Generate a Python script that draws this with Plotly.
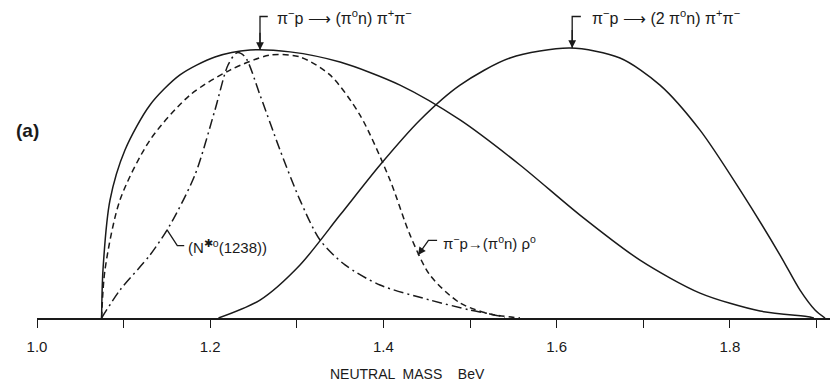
import plotly.graph_objects as go

# Neutral-mass spectra (arbitrary units, peak ~ 1) for pi- p reactions
mass_pi0n = [1.0746, 1.0762, 1.0843, 1.1016, 1.1305, 1.1651, 1.2055, 1.246, 1.2921,
             1.3499, 1.4192, 1.4885, 1.5577, 1.627, 1.6963, 1.7656, 1.8349, 1.8926, 1.897]
yield_pi0n = [0.0, 0.18, 0.44, 0.627, 0.795, 0.907, 0.974, 1.0, 0.993,
              0.955, 0.869, 0.739, 0.571, 0.384, 0.216, 0.093, 0.026, 0.004, 0.0]

mass_2pi0n = [1.2096, 1.2575, 1.3037, 1.3499, 1.3961, 1.4423, 1.4885, 1.5462, 1.6155,
              1.6732, 1.7194, 1.7656, 1.8118, 1.858, 1.8811, 1.8984, 1.91]
yield_2pi0n = [0.0, 0.067, 0.198, 0.384, 0.571, 0.739, 0.869, 0.970, 1.007,
               0.970, 0.869, 0.701, 0.478, 0.235, 0.104, 0.03, 0.0]

mass_nstar = [1.0746, 1.0958, 1.1305, 1.1536, 1.1824, 1.2055, 1.2206, 1.231, 1.2402,
              1.2575, 1.2806, 1.3037, 1.3268, 1.3557, 1.3961, 1.4538, 1.5, 1.5346, 1.54]
yield_nstar = [0.0, 0.104, 0.235, 0.347, 0.534, 0.776, 0.944, 0.99, 0.975,
               0.832, 0.627, 0.44, 0.291, 0.198, 0.123, 0.067, 0.03, 0.007, 0.0]

mass_rho = [1.0746, 1.0785, 1.0958, 1.1305, 1.1767, 1.2229, 1.2691, 1.3037, 1.3383,
            1.373, 1.4076, 1.4307, 1.4538, 1.4885, 1.5231, 1.5577]
yield_rho = [0.0, 0.18, 0.44, 0.664, 0.832, 0.925, 0.981, 0.974, 0.907,
             0.757, 0.515, 0.31, 0.16, 0.056, 0.015, 0.0]

tick_vals = [1.0, 1.1, 1.2, 1.3, 1.4, 1.5, 1.6, 1.7, 1.8, 1.9]
tick_text = ["1.0", "", "1.2", "", "1.4", "", "1.6", "", "1.8", ""]

INK = "#1a1a1a"
FONT = "Liberation Sans"
X_MAX = 1.0 + 793 / 866
Y_MAX = 318 / 268

fig = go.Figure()

def curve(x, y, dash):
    fig.add_trace(go.Scatter(x=x, y=y, mode="lines",
                             line=dict(color=INK, width=1.5, dash=dash,
                                       shape="spline", smoothing=0.8),
                             hoverinfo="skip", showlegend=False))

curve(mass_pi0n, yield_pi0n, "solid")
curve(mass_2pi0n, yield_2pi0n, "solid")
curve(mass_nstar, yield_nstar, "10px,4px,2px,4px")
curve(mass_rho, yield_rho, "6px,4px")

# leader lines joining the labels to their curves
def leader(x, y):
    fig.add_trace(go.Scatter(x=x, y=y, mode="lines",
                             line=dict(color=INK, width=1.3),
                             hoverinfo="skip", showlegend=False))

def arrowhead(x, y, ax, ay):
    fig.add_annotation(x=x, y=y, ax=ax, ay=ay, xref="x", yref="y",
                       axref="x", ayref="y", text="", showarrow=True,
                       arrowhead=2, arrowsize=1.2, arrowwidth=1.3, arrowcolor=INK)

leader([1.2665, 1.2575, 1.2575], [1.125, 1.125, 1.0])
arrowhead(1.2575, 1.0, 1.2575, 1.07)
leader([1.628, 1.618, 1.618], [1.125, 1.125, 1.007])
arrowhead(1.618, 1.007, 1.618, 1.08)
leader([1.170, 1.162, 1.150], [0.27, 0.27, 0.33])
leader([1.462, 1.452, 1.440], [0.29, 0.29, 0.235])
arrowhead(1.440, 0.235, 1.446, 0.262)

def label(x, y, text, size=16, bold=False):
    fig.add_annotation(x=x, y=y, xref="x", yref="y", text=text, showarrow=False,
                       xanchor="left", yanchor="middle",
                       font=dict(family=FONT, size=size, color=INK,
                                 weight="bold" if bold else "normal"))

label(1.2748, 1.125, "π<sup>−</sup>p ⟶ (π<sup>o</sup>n) π<sup>+</sup>π<sup>−</sup>")
label(1.6386, 1.125, "π<sup>−</sup>p ⟶ (2 π<sup>o</sup>n) π<sup>+</sup>π<sup>−</sup>")
label(1.172, 0.265, "(N<sup>✱o</sup>(1238))", size=15)
label(1.466, 0.28, "π<sup>−</sup>p→(π<sup>o</sup>n) ρ<sup>o</sup>", size=15)

fig.add_annotation(x=(14 - 37) / 793, y=(318 - 130) / 318, xref="paper", yref="paper",
                   text="(a)", showarrow=False, xanchor="left", yanchor="middle",
                   font=dict(family=FONT, size=19, color=INK, weight="bold"))

fig.add_annotation(x=1.4284, y=-56 / 318, xref="x", yref="paper",
                   text="NEUTRAL  MASS    BeV", showarrow=False,
                   xanchor="center", yanchor="middle",
                   font=dict(family=FONT, size=14, color=INK))

fig.update_layout(
    width=830, height=385,
    margin=dict(l=37, r=0, t=0, b=67),
    paper_bgcolor="white", plot_bgcolor="white",
    xaxis=dict(range=[1.0, X_MAX], showgrid=False, zeroline=False,
               showline=True, linecolor=INK, linewidth=1.5,
               ticks="outside", ticklen=8, tickwidth=1.3, tickcolor=INK,
               ticklabelstandoff=6,
               tickvals=tick_vals, ticktext=tick_text,
               tickfont=dict(family=FONT, size=15, color=INK)),
    yaxis=dict(range=[0, Y_MAX], visible=False),
)

fig.write_html("out.html")
